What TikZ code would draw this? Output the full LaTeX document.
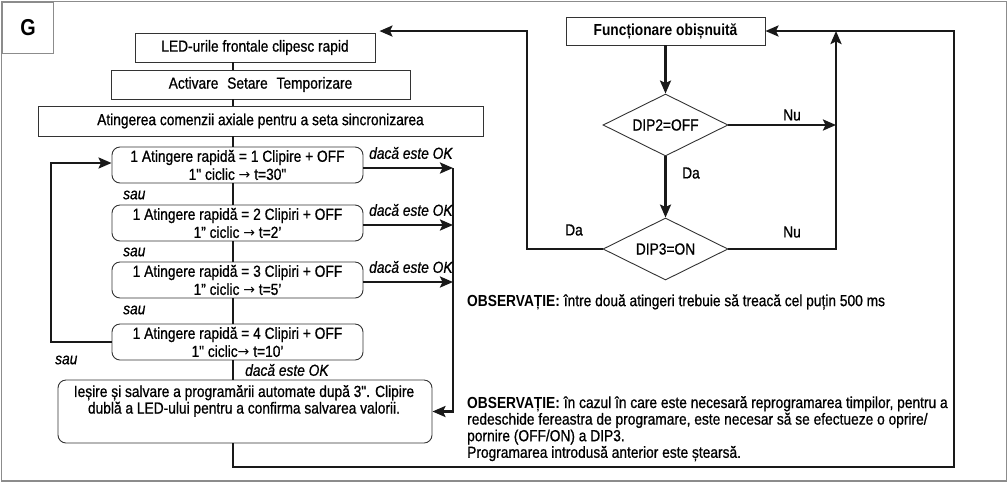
\documentclass[tikz,border=0pt]{standalone}
\usepackage{fontspec}
\setmainfont{Liberation Sans}[FakeStretch=0.86, Ligatures=TeXOff,
  UprightFeatures={FakeBold=0.8}, ItalicFeatures={FakeBold=0.6}]
\newfontfamily\arrowfont{DejaVu Sans}
\newcommand{\toarrow}{{\arrowfont\fontsize{14}{14}\selectfont →}}
\usetikzlibrary{arrows.meta,shapes.geometric}

\begin{document}
\fontsize{16}{16.6}\selectfont
\begin{tikzpicture}[x=1pt,y=-1pt,
  box/.style={draw=black!80, line width=0.9pt, rectangle, inner sep=0pt, align=center},
  rbox/.style={box, rounded corners=8pt},
  decision/.style={draw=black!80, line width=0.9pt, diamond, aspect=2, inner sep=0pt,
    minimum width=125pt, minimum height=62pt},
  conn/.style={line width=2.4pt, draw=black!90},
  arr/.style={conn, -{Stealth[length=13pt,width=11pt,inset=2.5pt]}},
  lbl/.style={inner sep=0pt, anchor=west},
  note/.style={lbl, font=\itshape},
]
\useasboundingbox (0,0) rectangle (1008,483);

% outer frame and tab
\draw[black!45, line width=1.4pt] (1.5,1.5) rectangle (1006.5,481);
\node[draw=black!45, line width=1.4pt, minimum size=51.5pt, inner sep=0pt, anchor=north west,
  font=\fontsize{23}{23}\selectfont\bfseries] (tab) at (1.5,1.5) {G};

% programming sequence
\node[box, minimum width=240pt, minimum height=29pt] (led) at (255,47.5) {LED-urile frontale clipesc rapid};
\node[box, minimum width=299pt, minimum height=29pt] (act) at (260.5,84.5) {Activare\hspace{0.55em}Setare\hspace{0.55em}Temporizare};
\node[box, minimum width=445pt, minimum height=30pt] (ating) at (260.5,121) {Atingerea comenzii axiale pentru a seta sincronizarea};

\node[rbox, minimum width=251pt, minimum height=36pt] (r1) at (237.5,165) {1 Atingere rapidă = 1 Clipire + OFF\\[1.5pt]1" ciclic \toarrow{} t=30"};
\node[rbox, minimum width=251pt, minimum height=36pt] (r2) at (237.5,223) {1 Atingere rapidă = 2 Clipiri + OFF\\[1.5pt]1” ciclic \toarrow{} t=2’};
\node[rbox, minimum width=251pt, minimum height=36pt] (r3) at (237.5,280) {1 Atingere rapidă = 3 Clipiri + OFF\\[1.5pt]1” ciclic \toarrow{} t=5’};
\node[rbox, minimum width=251pt, minimum height=36pt] (r4) at (237.5,342) {1 Atingere rapidă = 4 Clipiri + OFF\\[1.5pt]1" ciclic\toarrow{} t=10’};

\node[rbox, minimum width=374pt, minimum height=63pt] (fin) at (245,411.5) {};
\node[inner sep=0pt, align=center] (fintext) at (244,401) {Ieșire și salvare a programării automate după 3". Clipire\\dublă a LED-ului pentru a confirma salvarea valorii.};

% normal operation
\node[box, font=\bfseries, minimum width=199pt, minimum height=28pt] (func) at (665.5,31) {Funcționare obișnuită};
\node[decision] (d2) at (665.5,125) {DIP2=OFF};
\node[decision] (d3) at (665.5,249) {DIP3=ON};

% notes
\node[lbl] (obs1) at (467,302) {\textbf{OBSERVAȚIE:} între două atingeri trebuie să treacă cel puțin 500 ms};
\node[inner sep=0pt, anchor=north west, align=left] (obs2) at (467,396) {\textbf{OBSERVAȚIE:} în cazul în care este necesară reprogramarea timpilor, pentru a\\redeschide fereastra de programare, este necesar să se efectueze o oprire/\\pornire (OFF/ON) a DIP3.\\Programarea introdusă anterior este ștearsă.};

% helper columns and rows
\coordinate (sx) at (233,0);
\coordinate (lx) at (51,0);
\coordinate (okx) at (453,0);
\coordinate (rx) at (954,0);
\coordinate (ux) at (836,0);
\coordinate (dx) at (527,0);
\coordinate (by) at (0,467);
\coordinate (ledin) at ([xshift=4pt,yshift=1.5pt]led.north east);

% main spine
\draw[conn] (led.south -| sx) -- (act.north -| sx);
\draw[conn] (act.south -| sx) -- (ating.north -| sx);
\draw[conn] (ating.south -| sx) -- (r1.north -| sx);
\draw[conn] (r1.south -| sx) -- (r2.north -| sx);
\draw[conn] (r2.south -| sx) -- (r3.north -| sx);
\draw[conn] (r3.south -| sx) -- (r4.north -| sx);
\draw[conn] (r4.south -| sx) -- (fin.north -| sx);

% repeat loop
\draw[arr] (r4.west) -- (r4.west -| lx) |- ([yshift=2pt]r1.west);

% confirmation branches
\draw[arr] ([yshift=-3pt]r1.east) -- ([yshift=-3pt]r1.east -| okx);
\draw[arr] ([yshift=-2pt]r2.east) -- ([yshift=-2pt]r2.east -| okx);
\draw[arr] ([yshift=-2pt]r3.east) -- ([yshift=-2pt]r3.east -| okx);
\draw[arr] ([yshift=-3pt]r1.east -| okx) |- (fin.east);

% return to normal operation
\draw[arr] (fin.south -| sx) -- (sx |- by) -| (rx |- func.east) -- (func.east);

% decisions
\draw[arr] (func.south) -- (d2.north);
\draw[arr] (d2.south) -- (d3.north);
\draw[arr] (d2.east) -- (d2.east -| ux);
\draw[arr] (d3.east) -| (ux |- func.east);
\draw[arr] (d3.west) -| (dx |- ledin) -- (ledin);

% labels
\node[lbl] (nu1) at (783,115) {Nu};
\node[lbl] (nu2) at (783,232) {Nu};
\node[lbl] (da1) at (682,173) {Da};
\node[lbl] (da2) at (565,230) {Da};

\node[note] (s1) at (123,195) {sau};
\node[note] (s2) at (123,252) {sau};
\node[note] (s3) at (123,310) {sau};
\node[note] (s4) at (55,360) {sau};

\node[note] (ok1) at (369,153) {dacă este OK};
\node[note] (ok2) at (369,210) {dacă este OK};
\node[note] (ok3) at (369,267) {dacă este OK};
\node[note] (ok4) at (245,370) {dacă este OK};
\end{tikzpicture}
\end{document}
